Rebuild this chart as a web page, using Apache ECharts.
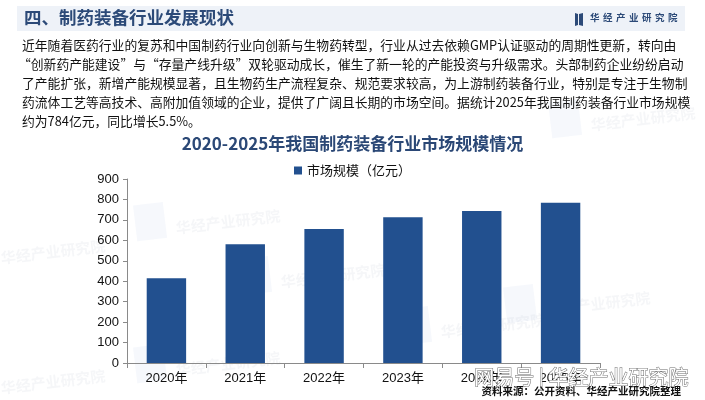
<!DOCTYPE html>
<html>
<head>
<meta charset="utf-8">
<script src="https://cdn.jsdelivr.net/npm/echarts@6/dist/echarts.min.js"></script>
<style>
html,body{margin:0;padding:0;background:#fff;}
#c{width:705px;height:400px;}
</style>
</head>
<body>
<div id="c"></div>
<script>
var categories = ['2020年','2021年','2022年','2023年','2024年','2025年'];
var marketSize = [414, 581, 655, 713, 743, 784];
var seriesName = '市场规模（亿元）';
var yTicks = [0,100,200,300,400,500,600,700,800,900];
var headerTitle = '四、制药装备行业发展现状';
var brandName = '华经产业研究院';
var paragraphLines = [
  '近年随着医药行业的复苏和中国制药行业向创新与生物药转型，行业从过去依赖GMP认证驱动的周期性更新，转向由',
  '“创新药产能建设”与“存量产线升级”双轮驱动成长，催生了新一轮的产能投资与升级需求。头部制药企业纷纷启动',
  '了产能扩张，新增产能规模显著，且生物药生产流程复杂、规范要求较高，为上游制药装备行业，特别是专注于生物制',
  '药流体工艺等高技术、高附加值领域的企业，提供了广阔且长期的市场空间。据统计2025年我国制药装备行业市场规模',
  '约为784亿元，同比增长5.5%。'
];
var chartTitle = '2020-2025年我国制药装备行业市场规模情况';
var sourceText = '资料来源：公开资料、华经产业研究院整理';
var platformMark = '网易号 | 华经产业研究院';

var CJK = '"Noto Sans CJK SC", "Noto Sans", sans-serif';
var chart = echarts.init(document.getElementById('c'), null, {renderer:'canvas'});

var graphics = [];
// header band
graphics.push({type:'rect', left:17, top:6, shape:{width:668, height:25}, style:{fill:'#eef2f8'}, z:0});
graphics.push({type:'text', left:24, top:9, style:{text:headerTitle, font:'bold 17.5px '+CJK, fill:'#2c4a78'}});
// logo icon
graphics.push({type:'polygon', shape:{points:[[575,13],[578,14],[578,25],[575,26]]}, style:{fill:'#2c4a78'}});
graphics.push({type:'polygon', shape:{points:[[579,14],[583,13],[583,26],[579,25]]}, style:{fill:'#2c4a78'}});
var bc = brandName.split('');
for (var i=0;i<bc.length;i++){
  graphics.push({type:'text', left:590 + i*13, top:13, style:{text:bc[i], font:'bold 9.5px '+CJK, fill:'#2c4a78'}});
}
// paragraph
for (var j=0;j<paragraphLines.length;j++){
  graphics.push({type:'text', left: j===1 ? 18 : 22, top: 39 + j*19, style:{text:paragraphLines[j], font:'12.8px '+CJK, fill:'#111'}});
}
// faint watermarks
var wm = [[175,208],[0,238],[280,262],[440,312],[545,290],[0,368],[175,350],[590,105]];
for (var k=0;k<wm.length;k++){
  graphics.push({type:'rect', left:wm[k][0]-42, top:wm[k][1]-6, rotation:0.12, shape:{width:30, height:36}, style:{fill:'rgba(170,190,225,0.10)'}, z:-1});
  graphics.push({type:'text', left:wm[k][0], top:wm[k][1], rotation:0.12, style:{text:brandName, font:'bold 15px '+CJK, fill:'rgba(180,185,200,0.13)'}, z:-1});
}
// source
graphics.push({type:'text', right:24, top:386, style:{text:sourceText, font:'bold 10.5px '+CJK, fill:'#111'}, z:10});
// platform watermark
graphics.push({type:'text', right:16, top:367, style:{text:platformMark, font:'20px '+CJK, fill:'#ffffff', stroke:'#6e6e6e', lineWidth:1}, z:9});

var option = {
  backgroundColor:'#ffffff',
  animation:false,
  title:{
    text: chartTitle, left:'center', top:130,
    textStyle:{fontFamily:CJK, fontWeight:'bold', fontSize:17, color:'#2b4876'}
  },
  legend:{
    data:[seriesName], top:159, left:'center',
    itemWidth:8, itemHeight:8, icon:'rect', itemGap:6,
    textStyle:{fontFamily:CJK, fontSize:13, color:'#111'}
  },
  grid:{left:127, right:105, top:179, bottom:37, containLabel:false},
  xAxis:{
    type:'category', data:categories,
    axisLine:{lineStyle:{color:'#8a8a8a', width:1}},
    axisTick:{show:true, alignWithLabel:false, length:5, lineStyle:{color:'#8a8a8a'}},
    axisLabel:{fontFamily:'"Liberation Sans", Arial, '+CJK, fontSize:13, color:'#111', margin:9}
  },
  yAxis:{
    type:'value', min:yTicks[0], max:yTicks[yTicks.length-1], interval:100,
    splitLine:{show:false},
    axisLine:{show:true, lineStyle:{color:'#8a8a8a'}},
    axisTick:{show:true, length:4, lineStyle:{color:'#8a8a8a'}},
    axisLabel:{fontFamily:'"Liberation Sans", Arial, sans-serif', fontSize:13, color:'#111', margin:8}
  },
  series:[{
    name:seriesName, type:'bar', data:marketSize, barWidth:'50%',
    itemStyle:{color:'#22508f'}
  }],
  graphic: graphics
};
chart.setOption(option);
</script>
</body>
</html>
